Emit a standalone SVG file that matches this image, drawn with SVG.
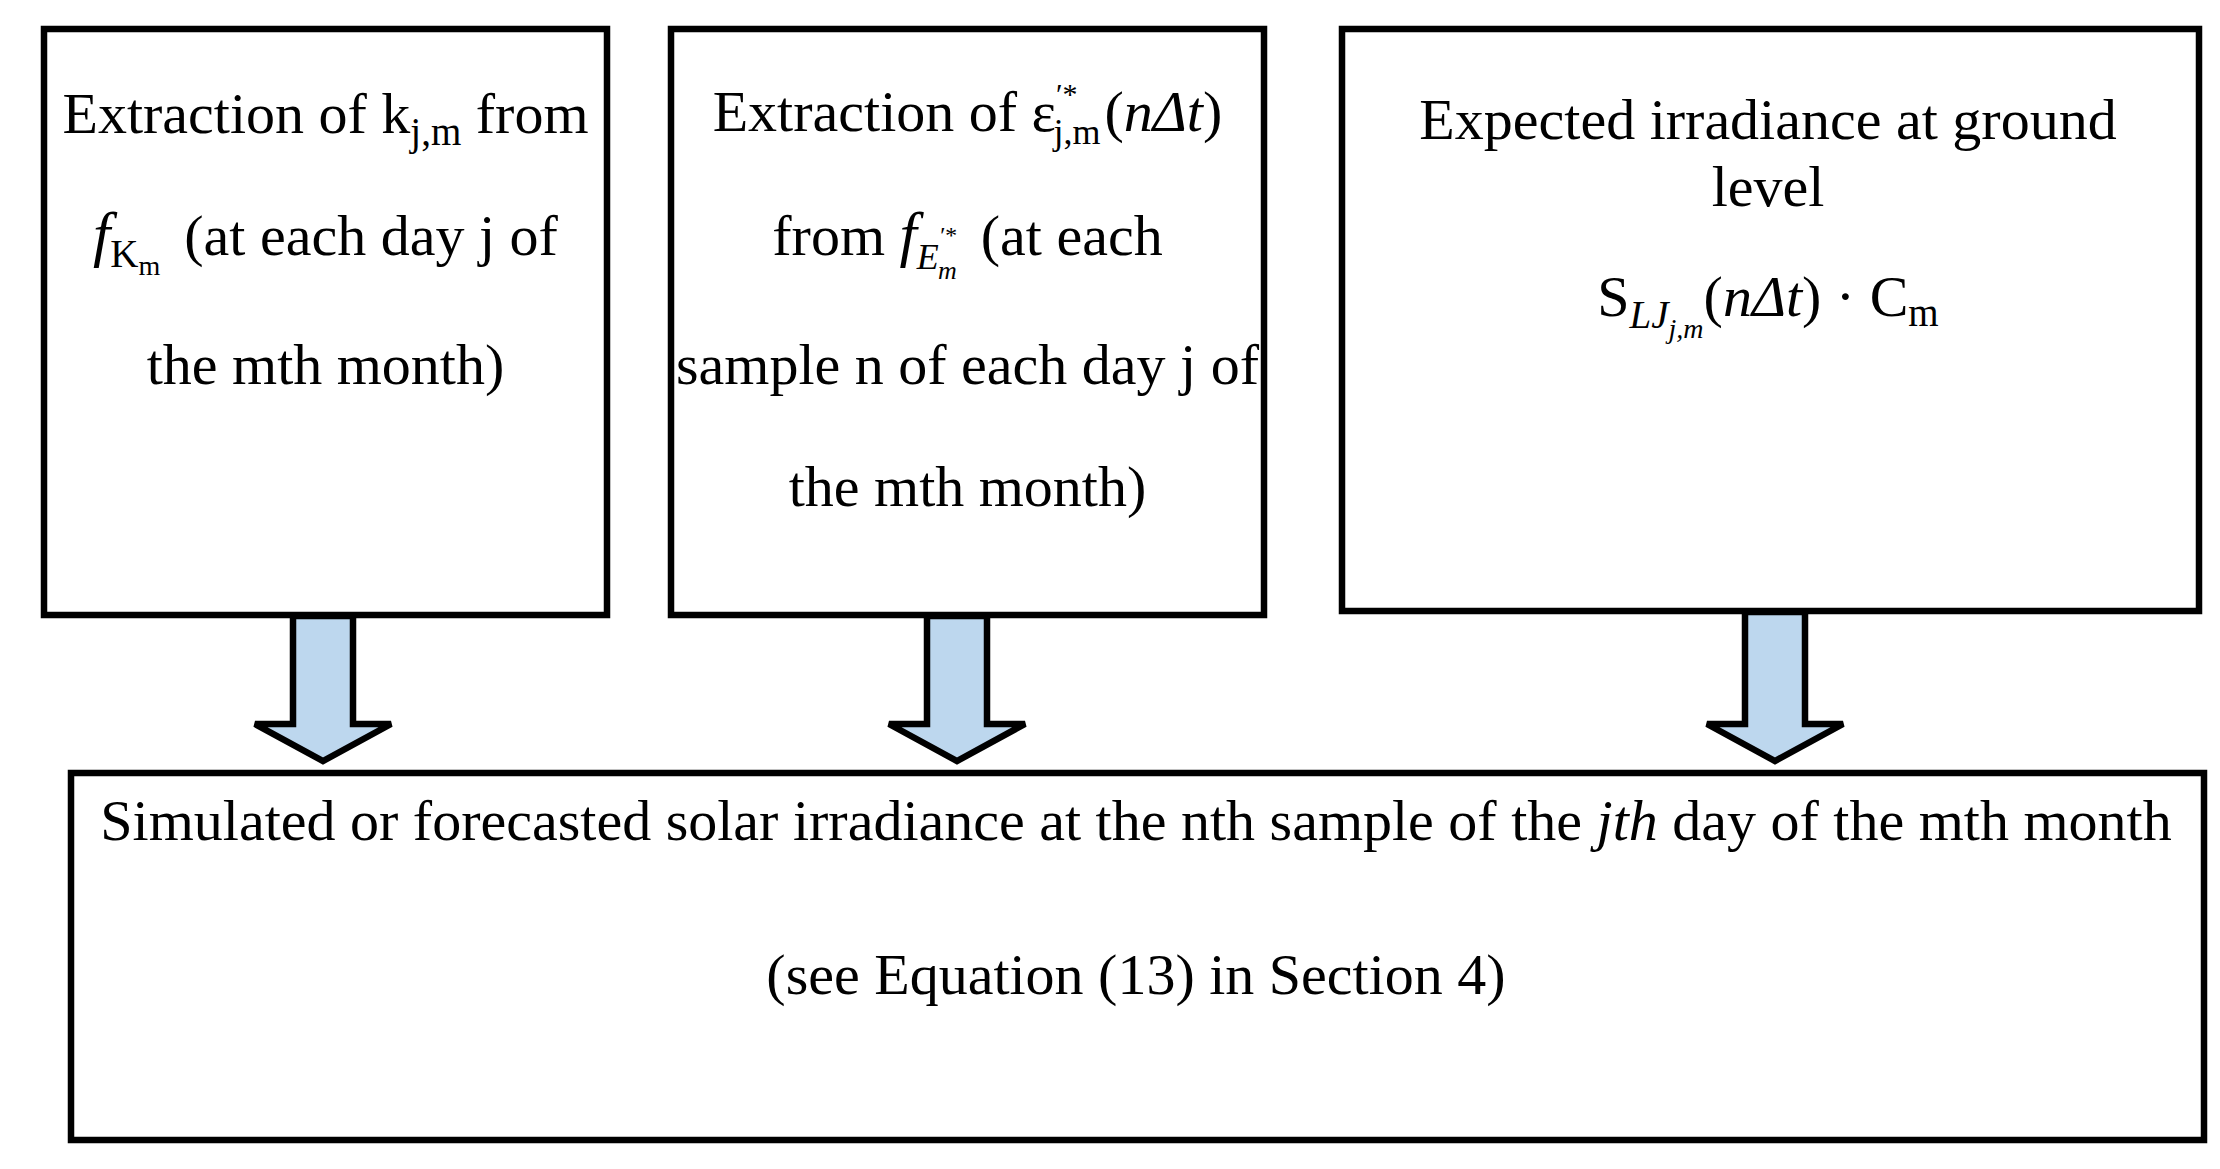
<svg xmlns="http://www.w3.org/2000/svg" width="2220" height="1169" viewBox="0 0 2220 1169">
<style>
.box{fill:#ffffff;stroke:#000000;stroke-width:6.5}
.arrow{fill:#bdd7ee;stroke:#000000;stroke-width:6.5;stroke-linejoin:miter}
text{font-family:"Liberation Serif","Times New Roman",serif;font-size:58px;fill:#000000;text-anchor:middle}
.i{font-style:italic}
.s{font-size:39px}
.ss{font-size:28px}
.sp{font-size:30px}
</style>
<rect width="2220" height="1169" fill="#ffffff"/>
<g id="connectors">
<path class="arrow" d="M293,616 L353,616 L353,724 L391,724 L323,761 L255,724 L293,724 Z"/>
<path class="arrow" d="M927,616 L987,616 L987,724 L1025,724 L957,761 L889,724 L927,724 Z"/>
<path class="arrow" d="M1745,612 L1805,612 L1805,724 L1843,724 L1775,761 L1707,724 L1745,724 Z"/>
</g>
<g id="node-k">
<rect class="box" x="44" y="29" width="563" height="586"/>
<text x="325.5" y="133">Extraction of k<tspan class="s" dy="12">j,m</tspan><tspan dy="-12"> from</tspan></text>
<text x="325.5" y="255"><tspan class="i" font-size="62">f</tspan><tspan class="s" dy="12">K</tspan><tspan class="ss" dy="8">m</tspan><tspan dy="-20" dx="24">(at each day j of</tspan></text>
<text x="325.5" y="384">the mth month)</text>
</g>
<g id="node-eps">
<rect class="box" x="671" y="29" width="593" height="586"/>
<text x="967.5" y="131">Extraction of ε<tspan class="sp" dy="-27">′*</tspan><tspan font-size="36" dx="-24" dy="40">j,m</tspan><tspan dy="-13" dx="4">(</tspan><tspan class="i">nΔt</tspan>)</text>
<text x="967.5" y="255">from <tspan class="i" font-size="62">f</tspan><tspan class="i" font-size="36" dy="14">E</tspan><tspan class="i" font-size="24" dy="-26">′*</tspan><tspan class="i" font-size="26" dx="-18" dy="36">m</tspan><tspan dy="-24" dx="24">(at each</tspan></text>
<text x="967.5" y="384">sample n of each day j of</text>
<text x="967.5" y="506">the mth month)</text>
</g>
<g id="node-expected">
<rect class="box" x="1342" y="29" width="857" height="582"/>
<text x="1768" y="139">Expected irradiance at ground</text>
<text x="1768" y="206">level</text>
<text x="1768" y="316">S<tspan class="s i" dy="12">LJ</tspan><tspan class="ss i" dy="10">j,m</tspan><tspan dy="-22">(</tspan><tspan class="i">nΔt</tspan>) · C<tspan class="s" dy="10">m</tspan></text>
</g>
<g id="node-result">
<rect class="box" x="71" y="773" width="2133" height="367"/>
<text x="1136" y="840">Simulated or forecasted solar irradiance at the nth sample of the <tspan class="i">jth</tspan> day of the mth month</text>
<text x="1136" y="994">(see Equation (13) in Section 4)</text>
</g>
</svg>
